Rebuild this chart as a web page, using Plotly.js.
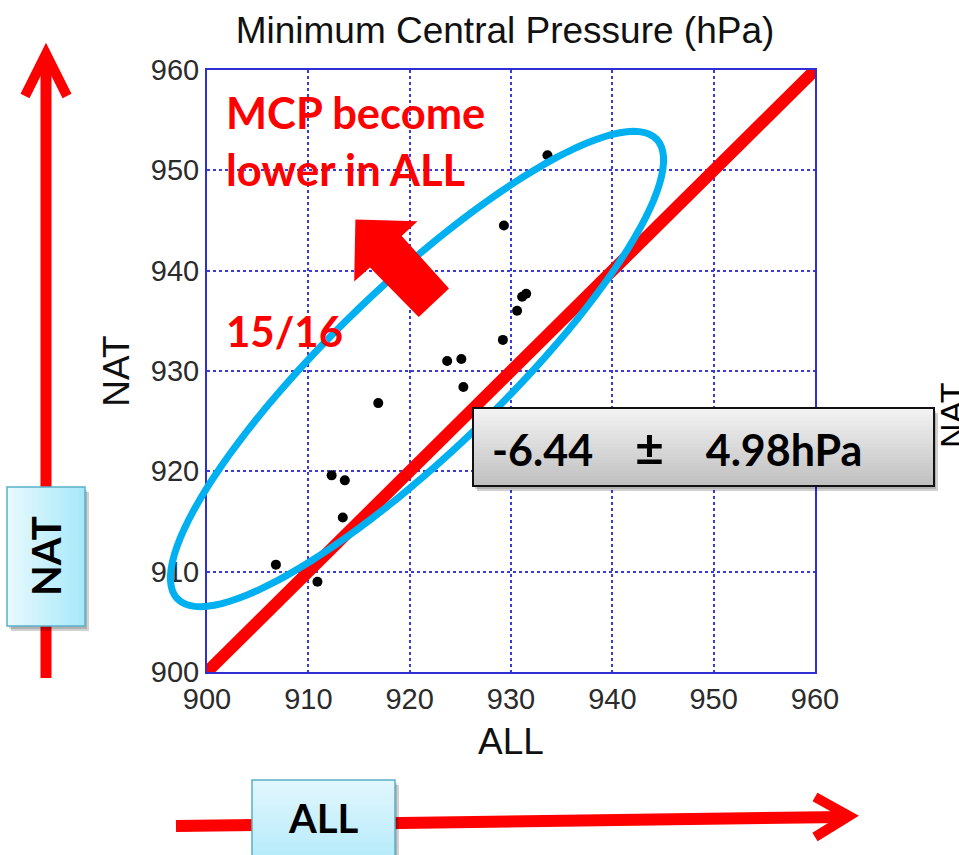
<!DOCTYPE html>
<html><head><meta charset="utf-8">
<script src="https://cdn.plot.ly/plotly-3.0.1.min.js"></script>
<style>html,body{margin:0;padding:0;background:#fff;overflow:hidden}#chart{width:959px;height:855px}</style>
</head><body><div id="chart"></div>
<script>
// ---- data ----
const allMCP = [933.6, 929.3, 931.1, 931.5, 930.6, 929.2, 923.7, 925.1, 925.3, 916.9, 912.3, 913.6, 913.4, 906.8, 910.9];
const natMCP = [951.5, 944.5, 937.4, 937.7, 936.0, 933.1, 931.0, 931.2, 928.4, 926.8, 919.6, 919.1, 915.4, 910.7, 909.0];
const axisRange = [900, 960];
const tickVals = [900, 910, 920, 930, 940, 950, 960];
const tickText = ['900', '910', '920', '930', '940', '950', '960'];
const diagX = [900, 960];
const diagY = [900, 960];
const titleText = 'Minimum Central Pressure (hPa)';
const xTitleText = 'ALL';
const yTitleText = 'NAT';
const noteText = 'MCP become<br>lower in ALL';
const ratioText = '15/16';
const diffText = '-6.44\u00a0\u00a0\u00a0\u00a0<span style="font-size:50px">\u00b1</span>\u00a0\u00a0\u00a0\u00a04.98hPa';
const sideNatText = 'NAT';
const boxNatText = 'NAT';
const boxAllText = 'ALL';

// ---- geometry helpers (decorations, in page pixels -> paper) ----
const W = 959, H = 855;
const PL = 207, PR = 815, PT = 70, PB = 672;
const xp = px => (px - PL) / (PR - PL);
const yp = py => (PB - py) / (PB - PT);
const RED = '#ff0000', CYAN = '#00b0f0';

function pathFrom(pts, close) {
  return pts.map((p, i) => (i ? 'L' : 'M') + xp(p[0]).toFixed(5) + ',' + yp(p[1]).toFixed(5)).join(' ') + (close ? ' Z' : '');
}
function lerpColor(c0, c1, t) {
  const a = [1,3,5].map(i => parseInt(c0.substr(i,2),16));
  const b = [1,3,5].map(i => parseInt(c1.substr(i,2),16));
  return 'rgb(' + a.map((v,i) => Math.round(v + (b[i]-v)*t)).join(',') + ')';
}
function gradBox(x0, y0, x1, y1, c0, c1, vertical, n, border, bw) {
  const out = [];
  out.push({type:'rect', xref:'paper', yref:'paper', x0:xp(x0+4), x1:xp(x1+4), y0:yp(y0+5), y1:yp(y1+5),
            fillcolor:'rgba(0,0,0,0.18)', line:{width:0}});
  out.push({type:'rect', xref:'paper', yref:'paper', x0:xp(x0+2), x1:xp(x1+2), y0:yp(y0+3), y1:yp(y1+3),
            fillcolor:'rgba(0,0,0,0.15)', line:{width:0}});
  for (let i = 0; i < n; i++) {
    const t0 = i / n, t1 = (i + 1) / n, c = lerpColor(c0, c1, (i + 0.5) / n);
    let s;
    if (vertical) {
      const a = y0 + (y1 - y0) * t0, b = Math.min(y1, y0 + (y1 - y0) * t1 + 1);
      s = {x0:xp(x0), x1:xp(x1), y0:yp(a), y1:yp(b)};
    } else {
      const a = x0 + (x1 - x0) * t0, b = Math.min(x1, x0 + (x1 - x0) * t1 + 1);
      s = {x0:xp(a), x1:xp(b), y0:yp(y0), y1:yp(y1)};
    }
    out.push(Object.assign({type:'rect', xref:'paper', yref:'paper', fillcolor:c, line:{width:0}}, s));
  }
  out.push({type:'rect', xref:'paper', yref:'paper', x0:xp(x0), x1:xp(x1), y0:yp(y0), y1:yp(y1),
            fillcolor:'rgba(0,0,0,0)', line:{color:border, width:bw}});
  return out;
}

// ellipse (pixel centre, semi-axes, tilt)
const ell = {cx:417, cy:369, a:332, b:84, deg:43.8};
const ellPts = [];
for (let k = 0; k < 120; k++) {
  const t = 2 * Math.PI * k / 120, th = ell.deg * Math.PI / 180;
  const ex = ell.a * Math.cos(t), ey = ell.b * Math.sin(t);
  ellPts.push([ell.cx + ex * Math.cos(th) - ey * Math.sin(th), ell.cy - (ex * Math.sin(th) + ey * Math.cos(th))]);
}

const blockArrow = [[355.4,219.4],[417.5,221.3],[401.7,236],[449,288.5],[418.7,317],[370,267.6],[354.2,281.4]];

const shapes = [
  {type:'path', xref:'paper', yref:'paper', path:pathFrom([[46,678],[46,58]]), line:{color:RED, width:11}},
  {type:'path', xref:'paper', yref:'paper', path:pathFrom([[25,96],[46,54],[67,96]]), line:{color:RED, width:10}},
  {type:'path', xref:'paper', yref:'paper', path:pathFrom([[176,826],[844,817]]), line:{color:RED, width:12}},
  {type:'path', xref:'paper', yref:'paper', path:pathFrom([[815,797],[849,816],[815,837]]), line:{color:RED, width:10}},
  {type:'path', xref:'paper', yref:'paper', path:pathFrom(ellPts, true), line:{color:CYAN, width:7}},
  {type:'path', xref:'paper', yref:'paper', path:pathFrom(blockArrow, true), fillcolor:RED, line:{width:0}},
]
.concat(gradBox(473, 408, 934, 486, '#f4f4f4', '#bfbfbf', true, 24, '#111111', 2))
.concat(gradBox(7, 487, 85, 626, '#e9f9fe', '#a6e8fa', false, 22, '#5ab0c8', 1.5))
.concat(gradBox(252, 780, 395, 880, '#e2f7fd', '#a9e8fa', true, 24, '#5ab0c8', 1.5));

const bold = fam => ({family: fam, weight: 'bold'});
const annotations = [
  {xref:'paper', yref:'paper', x:xp(224), y:yp(140), xanchor:'left', yanchor:'middle', align:'left', showarrow:false,
   text:noteText, font:Object.assign(bold('Lato'), {size:43.5, color:RED})},
  {xref:'paper', yref:'paper', x:xp(224), y:yp(331), xanchor:'left', yanchor:'middle', showarrow:false,
   text:ratioText, font:Object.assign(bold('Lato'), {size:42, color:RED})},
  {xref:'paper', yref:'paper', x:xp(677), y:yp(447), xanchor:'center', yanchor:'middle', showarrow:false,
   text:diffText, font:Object.assign(bold('Lato'), {size:43, color:'#000'})},
  {xref:'paper', yref:'paper', x:xp(46), y:yp(556), xanchor:'center', yanchor:'middle', showarrow:false, textangle:-90,
   text:boxNatText, font:Object.assign(bold('Lato'), {size:40, color:'#000'})},
  {xref:'paper', yref:'paper', x:xp(323), y:yp(818), xanchor:'center', yanchor:'middle', showarrow:false,
   text:boxAllText, font:Object.assign(bold('Lato'), {size:40, color:'#000'})},
  {xref:'paper', yref:'paper', x:xp(952), y:yp(416), xanchor:'center', yanchor:'middle', showarrow:false, textangle:-90,
   text:sideNatText, font:{family:'Liberation Sans', size:34, color:'#000'}}
];

const axisCommon = {
  range: axisRange, tickvals: tickVals, ticktext: tickText, ticks: '',
  showline: true, mirror: true, linecolor: '#2f2fd6', linewidth: 2,
  showgrid: true, gridcolor: '#3a3ae0', gridwidth: 2, griddash: 'dot',
  zeroline: false, fixedrange: true,
  tickfont: {family: 'Liberation Sans', size: 29, color: '#2b2b2b'}
};

const data = [
  {type:'scatter', mode:'markers', x:allMCP, y:natMCP, marker:{color:'#000', size:10}, hoverinfo:'skip', cliponaxis:false},
  {type:'scatter', mode:'lines', x:diagX, y:diagY, line:{color:RED, width:12}, hoverinfo:'skip', cliponaxis:false}
];

const layout = {
  width: W, height: H,
  margin: {l: PL, r: W - PR, t: PT, b: H - PB, pad: 0},
  paper_bgcolor: '#fff', plot_bgcolor: '#fff',
  showlegend: false, hovermode: false,
  title: {text: titleText, xref: 'container', x: 505 / W, xanchor: 'center', yref: 'container', y: 1 - 30 / H, yanchor: 'middle',
          font: {family: 'Liberation Sans', size: 37, color: '#111'}},
  xaxis: Object.assign({}, axisCommon, {title: {text: xTitleText, standoff: 14, font: {family: 'Liberation Sans', size: 37, color: '#111'}}}),
  yaxis: Object.assign({}, axisCommon, {title: {text: yTitleText, standoff: 10, font: {family: 'Liberation Sans', size: 37, color: '#111'}}}),
  shapes: shapes,
  annotations: annotations
};

Plotly.newPlot('chart', data, layout, {staticPlot: true, displayModeBar: false});
</script></body></html>
